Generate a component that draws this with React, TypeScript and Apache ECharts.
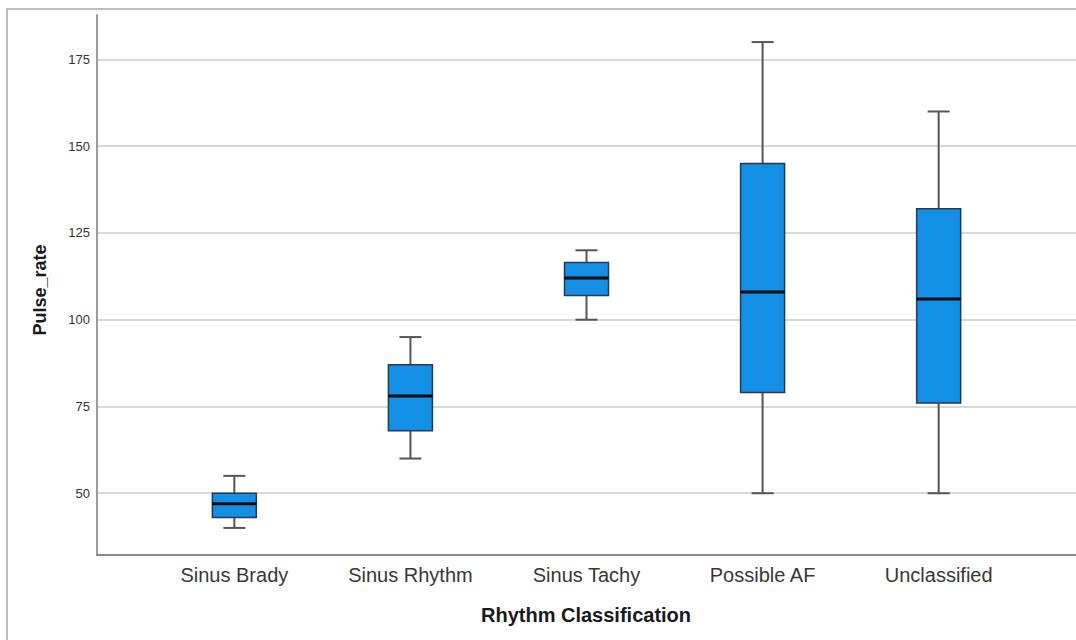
import React, { useEffect, useRef } from "react";
import * as echarts from "echarts";

const categories = ["Sinus Brady", "Sinus Rhythm", "Sinus Tachy", "Possible AF", "Unclassified"];
// [min, Q1, median, Q3, max]
const boxValues: number[][] = [
  [40, 43, 47, 50, 55],
  [60, 68, 78, 87, 95],
  [100, 107, 112, 116.5, 120],
  [50, 79, 108, 145, 180],
  [50, 76, 106, 132, 160],
];
const yTicks = [50, 75, 100, 125, 150, 175];
const xTicks = [0, 1, 2, 3, 4];

export default function App() {
  const ref = useRef<HTMLDivElement>(null);
  useEffect(() => {
    if (!ref.current) return;
    const chart = echarts.init(ref.current, null, { renderer: "svg" });
    const data = boxValues.map((b, i) => [i, ...b]);
    const boxHalf = 0.125;
    const capHalf = 0.0625;
    chart.setOption({
      animation: false,
      backgroundColor: "#ffffff",
      graphic: [
        {
          type: "rect",
          shape: { x: 7, y: 9, width: 1200, height: 800 },
          style: { fill: "none", stroke: "#a8a8a8", lineWidth: 1.5 },
          z: 0,
        },
        {
          type: "text",
          left: 481,
          top: 605,
          style: {
            text: "Rhythm Classification",
            font: "bold 20px Arial, 'Liberation Sans', sans-serif",
            fill: "#1a1a1a",
          },
        },
      ],
      grid: { left: 97, right: 0, top: 15, bottom: 85 },
      xAxis: {
        type: "value",
        min: -0.78,
        max: 4.78,
        axisLine: { show: true, onZero: false, lineStyle: { color: "#8a8a8a", width: 2 } },
        axisTick: { show: false, customValues: xTicks },
        splitLine: { show: false },
        axisLabel: {
          customValues: xTicks,
          formatter: (v: number) => categories[Math.round(v)] ?? "",
          fontSize: 20,
          color: "#383838",
          fontFamily: "Arial, 'Liberation Sans', sans-serif",
          margin: 10,
        },
      },
      yAxis: {
        type: "value",
        min: 32.2,
        max: 187.8,
        name: "Pulse_rate",
        nameLocation: "middle",
        nameGap: 48,
        nameRotate: 90,
        nameTextStyle: {
          fontSize: 18,
          fontWeight: "bold",
          color: "#1a1a1a",
          fontFamily: "Arial, 'Liberation Sans', sans-serif",
          padding: [0, 10, 0, 0],
        },
        axisLine: { show: true, onZero: false, lineStyle: { color: "#9a9a9a", width: 2 } },
        axisTick: { show: false, customValues: yTicks },
        splitLine: { show: true, lineStyle: { color: "#d9d9d9", width: 2 } },
        axisLabel: {
          customValues: yTicks,
          fontSize: 13,
          color: "#333333",
          fontFamily: "Arial, 'Liberation Sans', sans-serif",
          margin: 7,
        },
      },
      series: [
        {
          type: "custom",
          encode: { x: 0, y: [1, 2, 3, 4, 5] },
          data,
          renderItem: (params: any, api: any) => {
            const x = api.value(0);
            const mn = api.value(1);
            const q1 = api.value(2);
            const md = api.value(3);
            const q3 = api.value(4);
            const mx = api.value(5);
            const c = (xx: number, yy: number) => api.coord([xx, yy]);
            const pMax = c(x, mx);
            const pQ3 = c(x, q3);
            const pQ1 = c(x, q1);
            const pMin = c(x, mn);
            const lt = c(x - boxHalf, q3);
            const rb = c(x + boxHalf, q1);
            const capL = c(x - capHalf, mx);
            const capR = c(x + capHalf, mx);
            const capL2 = c(x - capHalf, mn);
            const capR2 = c(x + capHalf, mn);
            const mL = c(x - boxHalf, md);
            const mR = c(x + boxHalf, md);
            const wStyle = { stroke: "#555555", lineWidth: 2 };
            return {
              type: "group",
              children: [
                { type: "line", shape: { x1: pMax[0], y1: pMax[1], x2: pQ3[0], y2: pQ3[1] }, style: wStyle },
                { type: "line", shape: { x1: pQ1[0], y1: pQ1[1], x2: pMin[0], y2: pMin[1] }, style: wStyle },
                { type: "line", shape: { x1: capL[0], y1: capL[1], x2: capR[0], y2: capR[1] }, style: wStyle },
                { type: "line", shape: { x1: capL2[0], y1: capL2[1], x2: capR2[0], y2: capR2[1] }, style: wStyle },
                {
                  type: "rect",
                  shape: { x: lt[0], y: lt[1], width: rb[0] - lt[0], height: rb[1] - lt[1] },
                  style: { fill: "#138fe6", stroke: "#2b3a4a", lineWidth: 1.5 },
                },
                {
                  type: "line",
                  shape: { x1: mL[0], y1: mL[1], x2: mR[0], y2: mR[1] },
                  style: { stroke: "#0a0a0a", lineWidth: 3 },
                },
              ],
            };
          },
        },
      ],
    });
    return () => chart.dispose();
  }, []);
  return (
    <div
      ref={ref}
      style={{ position: "fixed", left: 0, top: 0, width: 1076, height: 640 }}
    />
  );
}
